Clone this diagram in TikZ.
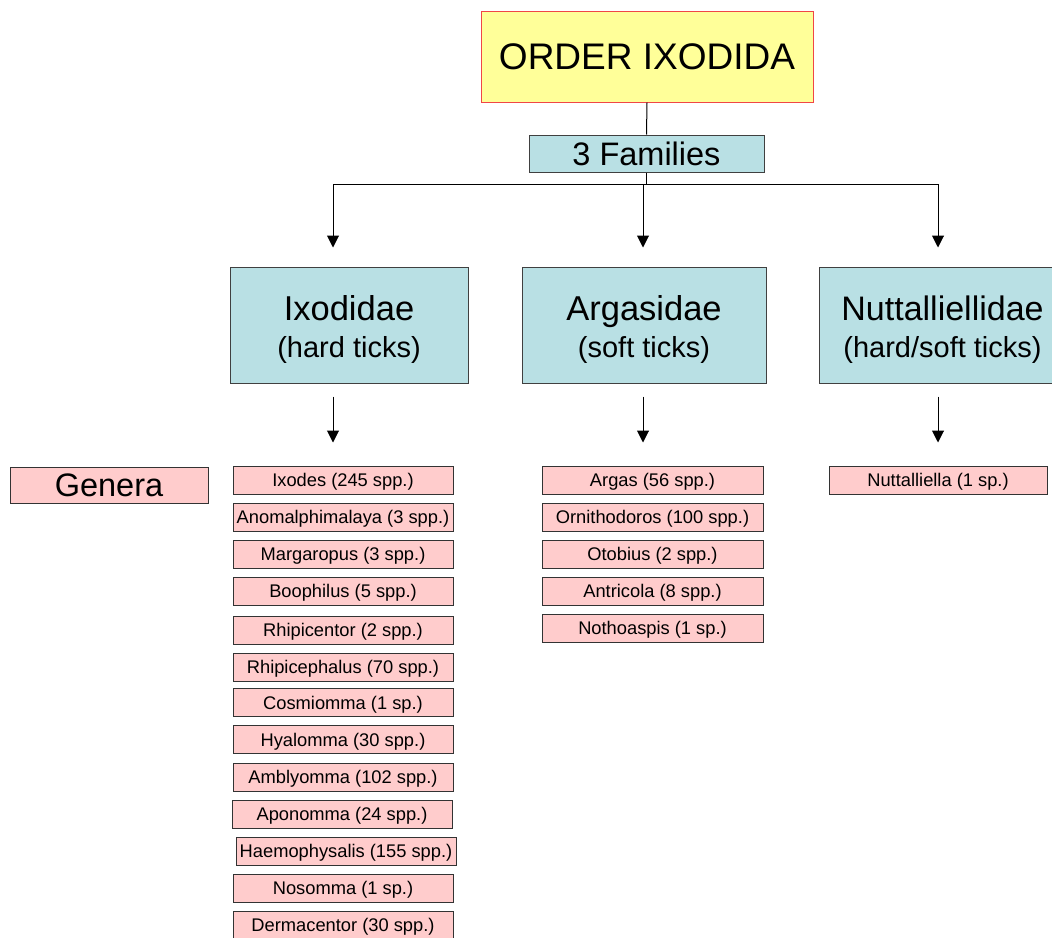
\documentclass[tikz,border=0pt]{standalone}
\usepackage{fontspec}
\setmainfont{Liberation Sans}
\usetikzlibrary{arrows.meta}
\definecolor{famblue}{RGB}{185,224,228}
\definecolor{ordyellow}{RGB}{255,255,153}
\definecolor{ordred}{RGB}{240,70,70}
\definecolor{genpink}{RGB}{255,204,204}
\tikzset{
	orderbox/.style={draw=ordred,fill=ordyellow,line width=1pt,minimum width=332pt,minimum height=91pt,inner sep=0pt,font=\fontsize{37}{40}\selectfont},
	fambox/.style={draw=black!75,fill=famblue,line width=1pt,minimum height=116pt,inner sep=0pt,align=center,font=\fontsize{29}{37}\selectfont},
	genbox/.style={draw=black!80,fill=genpink,line width=1pt,minimum height=28pt,inner sep=0pt,text height=13pt,text depth=0pt,font=\fontsize{18.3}{20}\selectfont},
	arr/.style={-{Triangle[width=12pt,length=12pt]},line width=1pt}
}

\begin{document}
\begin{tikzpicture}[x=1pt,y=-1pt]
	\useasboundingbox (0,0) rectangle (1052,937);
	\draw (647,56.5) node[orderbox] (order) {ORDER IXODIDA};
	\draw (646.5,153.5) node[fambox,minimum width=235pt,minimum height=37pt,font=\fontsize{32.5}{34}\selectfont] (fams) {3 Families};
	\draw (349,325) node[fambox,minimum width=238pt] (ixo) {{\fontsize{34.5}{37}\selectfont\rule{0pt}{33pt}Ixodidae}\\(hard ticks)};
	\draw (644,325) node[fambox,minimum width=244pt] (arg) {{\fontsize{34.5}{37}\selectfont\rule{0pt}{33pt}Argasidae}\\(soft ticks)};
	\draw (942.5,325) node[fambox,minimum width=247pt] (nut) {{\fontsize{34}{37}\selectfont\rule{0pt}{33pt}Nuttalliellidae}\\(hard/soft ticks)};
	\draw (109,485) node[genbox,minimum width=198pt,minimum height=36pt,text height=23pt,font=\fontsize{32.5}{34}\selectfont] (genera) {Genera};

	\draw (343,480) node[genbox,minimum width=220pt] (ixodes) {Ixodes (245 spp.)};
	\draw (343,517) node[genbox,minimum width=220pt] (anom) {Anomalphimalaya (3 spp.)};
	\draw (343,554) node[genbox,minimum width=220pt] (marg) {Margaropus (3 spp.)};
	\draw (343,591) node[genbox,minimum width=220pt] (booph) {Boophilus (5 spp.)};
	\draw (343,630) node[genbox,minimum width=220pt] (rhipc) {Rhipicentor (2 spp.)};
	\draw (343,667) node[genbox,minimum width=220pt] (rhiph) {Rhipicephalus (70 spp.)};
	\draw (343,702.5) node[genbox,minimum width=220pt] (cosm) {Cosmiomma (1 sp.)};
	\draw (343,739.5) node[genbox,minimum width=220pt] (hyal) {Hyalomma (30 spp.)};
	\draw (343,777) node[genbox,minimum width=220pt] (ambl) {Amblyomma (102 spp.)};
	\draw (342,814) node[genbox,minimum width=220pt] (apon) {Aponomma (24 spp.)};
	\draw (346,851) node[genbox,minimum width=220pt] (haem) {Haemophysalis (155 spp.)};
	\draw (343,888) node[genbox,minimum width=220pt] (nosom) {Nosomma (1 sp.)};
	\draw (343,925) node[genbox,minimum width=220pt] (derm) {Dermacentor (30 spp.)};

	\draw (652.5,480) node[genbox,minimum width=221pt] (argas) {Argas (56 spp.)};
	\draw (652.5,517) node[genbox,minimum width=221pt] (ornith) {Ornithodoros (100 spp.)};
	\draw (652.5,554) node[genbox,minimum width=221pt] (otob) {Otobius (2 spp.)};
	\draw (652.5,591) node[genbox,minimum width=221pt] (antr) {Antricola (8 spp.)};
	\draw (652.5,628) node[genbox,minimum width=221pt] (noth) {Nothoaspis (1 sp.)};

	\draw (938,480) node[genbox,minimum width=218pt] (nutt) {Nuttalliella (1 sp.)};

	\coordinate (j1) at (333,184);
	\coordinate (j2) at (643,184);
	\coordinate (j3) at (938,184);
	\draw[line width=1pt] (order.south) -- (fams.north);
	\draw[line width=1pt] (fams.south) -- (fams.south |- j1);
	\draw[line width=1pt] (j1) -- (j3);
	\draw[arr,shorten >=19pt] (j1) -- (ixo.north -| j1);
	\draw[arr,shorten >=19pt] (j2) -- (arg.north -| j2);
	\draw[arr,shorten >=19pt] (j3) -- (nut.north -| j3);
	\draw[arr,shorten <=13pt,shorten >=23pt] (ixo.south -| j1) -- (ixodes.north -| j1);
	\draw[arr,shorten <=13pt,shorten >=23pt] (arg.south -| j2) -- (argas.north -| j2);
	\draw[arr,shorten <=13pt,shorten >=23pt] (nut.south -| j3) -- (nutt.north -| j3);
\end{tikzpicture}
\end{document}
